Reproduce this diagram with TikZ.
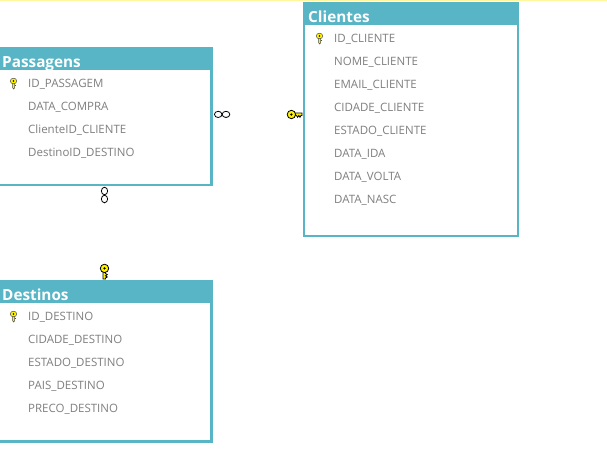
\documentclass[tikz,border=0pt]{standalone}
\usepackage{fontspec}
\setmainfont{Open Sans}
\definecolor{tealbar}{HTML}{58B5C5}
\definecolor{rowgray}{HTML}{7F7F7F}
\definecolor{topline}{HTML}{FFF7A0}
\tikzset{
  rowtext/.style={anchor=base west,inner sep=0pt,text=rowgray,font=\fontsize{11.5pt}{14pt}\selectfont},
  titletext/.style={anchor=base west,inner sep=0pt,text=white,font=\bfseries\fontsize{15.3pt}{18pt}\selectfont},
  tablebox/.style={draw=tealbar,line width=2.3pt,fill=white,inner sep=0pt,anchor=north west},
}
\begin{document}
\begin{tikzpicture}[x=1pt,y=-1pt]
\useasboundingbox (0, 0) rectangle (607, 474);
\fill [color=white] (0, 0) rectangle (607, 474);
\fill [color=topline] (0, 0) rectangle (607, 1.2);

\newcommand\smallkey[2]{%
\filldraw [fill=yellow,draw=black!70,line width=.5pt] (#1-1, #2-1) -- (#1-1, #2+3.5) -- (#1, #2+5) -- (#1+1, #2+4) -- (#1+1, #2-1) -- cycle;%
\fill [color=black!70] (#1+1, #2+1.2) rectangle (#1+2.4, #2+2);%
\filldraw [fill=yellow,draw=black!70,line width=.5pt] (#1, #2-3) ellipse (3.3 and 2.8);%
\fill [color=black] (#1, #2-3) circle (.8);%
}
\newcommand\ringend[4]{%
\draw [line width=.8pt] (#1, #2) ellipse (#3 and #4);%
}

% Passagens
\node (passagensbox) at (-10, 47) [tablebox,minimum width=220.2pt,minimum height=136.7pt] {};
\fill [color=tealbar] (-10, 47) rectangle (212.5, 70);
\node (passagenstitle) at (2, 67.4) [titletext] {Passagens};
\node (idpassagem) at (28, 87) [rowtext] {ID\_PASSAGEM};
\node (datacompra) at (28, 110) [rowtext] {DATA\_COMPRA};
\node (clienteid) at (28, 133) [rowtext] {ClienteID\_CLIENTE};
\node (destinoid) at (28, 156) [rowtext] {DestinoID\_DESTINO};
\smallkey{13.5}{84}

% Clientes
\node (clientesbox) at (303, 2) [tablebox,minimum width=213.7pt,minimum height=232.7pt] {};
\fill [color=tealbar] (303, 2) rectangle (519, 25);
\node (clientestitle) at (308, 22.4) [titletext] {Clientes};
\node (idcliente) at (334, 42) [rowtext] {ID\_CLIENTE};
\node (nomecliente) at (334, 65) [rowtext] {NOME\_CLIENTE};
\node (emailcliente) at (334, 88) [rowtext] {EMAIL\_CLIENTE};
\node (cidadecliente) at (334, 111) [rowtext] {CIDADE\_CLIENTE};
\node (estadocliente) at (334, 134) [rowtext] {ESTADO\_CLIENTE};
\node (dataida) at (334, 157) [rowtext] {DATA\_IDA};
\node (datavolta) at (334, 180) [rowtext] {DATA\_VOLTA};
\node (datanasc) at (334, 203) [rowtext] {DATA\_NASC};
\smallkey{319.5}{39}

% Destinos
\node (destinosbox) at (-10, 280) [tablebox,minimum width=220.2pt,minimum height=160.2pt] {};
\fill [color=tealbar] (-10, 280) rectangle (212.5, 303);
\node (destinostitle) at (2, 300.2) [titletext] {Destinos};
\node (iddestino) at (28, 320) [rowtext] {ID\_DESTINO};
\node (cidadedestino) at (28, 343) [rowtext] {CIDADE\_DESTINO};
\node (estadodestino) at (28, 366) [rowtext] {ESTADO\_DESTINO};
\node (paisdestino) at (28, 389) [rowtext] {PAIS\_DESTINO};
\node (precodestino) at (28, 412) [rowtext] {PRECO\_DESTINO};
\smallkey{13.5}{317}

% relationship ends
\ringend{218.2}{114.4}{3.8}{3.1}
\ringend{226}{114.4}{3.8}{3.1}
\ringend{104.5}{191}{3.1}{3.8}
\ringend{104.5}{199}{3.1}{3.8}

% big keys
\filldraw [fill=yellow,line width=.8pt] (103, 271) -- (103, 279) -- (105.5, 279) -- (105.5, 278) -- (107.3, 277) -- (105.5, 275.8) -- (107.3, 274.6) -- (105.5, 273.4) -- (105.5, 271) -- cycle;
\filldraw [fill=yellow,line width=.8pt] (104.5, 268.4) circle (4.2);
\fill [color=black] (104.5, 268.4) circle (1.3);
\filldraw [fill=yellow,line width=.8pt] (294, 113) -- (302, 113) -- (302, 115.5) -- (301, 115.5) -- (300, 117.3) -- (298.8, 115.5) -- (297.6, 117.3) -- (296.4, 115.5) -- (294, 115.5) -- cycle;
\filldraw [fill=yellow,line width=.8pt] (291.4, 114.5) circle (4.2);
\fill [color=black] (291.4, 114.5) circle (1.3);
\end{tikzpicture}
\end{document}
